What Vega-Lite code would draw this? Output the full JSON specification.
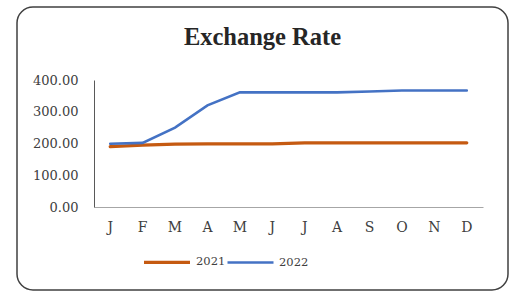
{
  "$schema": "https://vega.github.io/schema/vega-lite/v6.json",
  "width": 491,
  "height": 283,
  "autosize": {"type": "none"},
  "padding": {"left": 17, "top": 7, "right": 5, "bottom": 1},
  "background": "white",
  "title": {
    "text": "Exchange Rate",
    "font": "Liberation Serif",
    "fontSize": 24.5,
    "fontWeight": "bold",
    "color": "#262626",
    "anchor": "middle",
    "frame": "group",
    "baseline": "alphabetic",
    "offset": -62
  },
  "config": {
    "view": {"stroke": "#404040", "strokeWidth": 1.5, "cornerRadius": 16},
    "axis": {"grid": false, "ticks": false, "labelFont": "DejaVu Serif", "labelColor": "#404040", "domainColor": "#8c8c8c", "title": null}
  },
  "data": {
    "values": [
      {"month": "Jan", "year": "2021", "rate": 190},
      {"month": "Feb", "year": "2021", "rate": 195},
      {"month": "Mar", "year": "2021", "rate": 198},
      {"month": "Apr", "year": "2021", "rate": 199},
      {"month": "May", "year": "2021", "rate": 199},
      {"month": "Jun", "year": "2021", "rate": 199},
      {"month": "Jul", "year": "2021", "rate": 202},
      {"month": "Aug", "year": "2021", "rate": 202},
      {"month": "Sep", "year": "2021", "rate": 202},
      {"month": "Oct", "year": "2021", "rate": 202},
      {"month": "Nov", "year": "2021", "rate": 202},
      {"month": "Dec", "year": "2021", "rate": 202},
      {"month": "Jan", "year": "2022", "rate": 199},
      {"month": "Feb", "year": "2022", "rate": 202},
      {"month": "Mar", "year": "2022", "rate": 250},
      {"month": "Apr", "year": "2022", "rate": 320},
      {"month": "May", "year": "2022", "rate": 361},
      {"month": "Jun", "year": "2022", "rate": 361},
      {"month": "Jul", "year": "2022", "rate": 361},
      {"month": "Aug", "year": "2022", "rate": 361},
      {"month": "Sep", "year": "2022", "rate": 364},
      {"month": "Oct", "year": "2022", "rate": 367},
      {"month": "Nov", "year": "2022", "rate": 367},
      {"month": "Dec", "year": "2022", "rate": 367}
    ]
  },
  "mark": {"type": "line", "strokeCap": "round"},
  "encoding": {
    "x": {
      "field": "month",
      "type": "ordinal",
      "sort": ["Jan","Feb","Mar","Apr","May","Jun","Jul","Aug","Sep","Oct","Nov","Dec"],
      "scale": {"type": "band", "range": [77, 466], "paddingInner": 0, "paddingOuter": 0},
      "axis": {"orient": "bottom", "offset": -83, "labelAngle": 0, "labelFontSize": 14, "labelPadding": 13, "labelExpr": "substring(datum.label, 0, 1)", "domainColor": "#a6a6a6"}
    },
    "y": {
      "field": "rate",
      "type": "quantitative",
      "scale": {"domain": [0, 400], "range": [200, 73], "nice": false},
      "axis": {"orient": "left", "offset": -77, "values": [0, 100, 200, 300, 400], "format": ".2f", "labelFontSize": 13, "labelPadding": 16, "domainColor": "#595959"}
    },
    "color": {
      "field": "year",
      "type": "nominal",
      "scale": {"domain": ["2021", "2022"], "range": ["#C55A11", "#4472C4"]},
      "legend": {
        "title": null,
        "orient": "none",
        "legendX": 125,
        "legendY": 230,
        "direction": "horizontal",
        "symbolType": "stroke",
        "symbolSize": 2116,
        "symbolStrokeWidth": 3,
        "labelFont": "DejaVu Serif",
        "labelFontSize": 11.5,
        "labelColor": "#404040",
        "labelOffset": 4,
        "columnPadding": -7
      }
    },
    "strokeWidth": {
      "field": "year",
      "type": "nominal",
      "scale": {"domain": ["2021", "2022"], "range": [3.2, 2.6]},
      "legend": null
    }
  }
}
